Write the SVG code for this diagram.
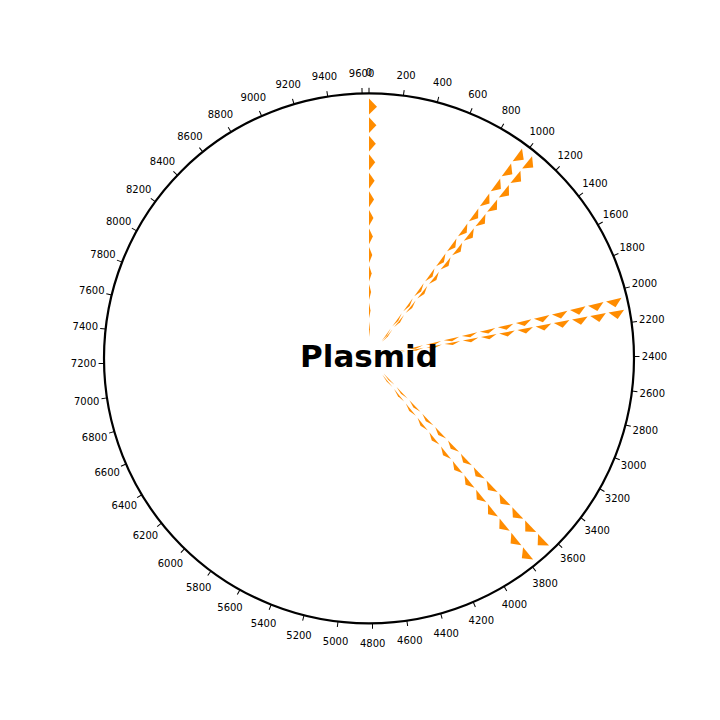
<svg xmlns="http://www.w3.org/2000/svg" xmlns:xlink="http://www.w3.org/1999/xlink" width="720" height="720" viewBox="0 0 720 720">
<style>
.lbl{font-family:"DejaVu Sans",sans-serif;font-size:10px;fill:#000;text-anchor:middle}
.tk{stroke:#000;stroke-width:1}
.feat polygon{fill:#ff8c00;stroke:none}
.title{font-family:"DejaVu Sans",sans-serif;font-size:31px;font-weight:bold;fill:#000;text-anchor:middle}
</style>
<defs>
<line id="tk" class="tk" x1="0" y1="-265" x2="0" y2="-270.5"/>
<g id="fwd" class="feat">
<polygon points="0,-259.7 0,-243.8 8.00,-251.62"/>
<polygon points="0,-241.15 0,-225.25 7.41,-233.08"/>
<polygon points="0,-222.6 0,-206.7 6.82,-214.54"/>
<polygon points="0,-204.05 0,-188.15 6.23,-196.0"/>
<polygon points="0,-185.5 0,-169.6 5.64,-177.46"/>
<polygon points="0,-166.95 0,-151.05 5.05,-158.92"/>
<polygon points="0,-148.4 0,-132.5 4.46,-140.38"/>
<polygon points="0,-129.85 0,-113.95 3.87,-121.84"/>
<polygon points="0,-111.3 0,-95.4 3.28,-103.30"/>
<polygon points="0,-92.75 0,-76.85 2.69,-84.76"/>
<polygon points="0,-74.2 0,-58.3 2.10,-66.22"/>
<polygon points="0,-55.65 0,-39.75 1.51,-47.68"/>
<polygon points="0,-37.1 0,-21.2 0.93,-29.14"/>
</g>
</defs>
<circle cx="369" cy="358.3" r="265" fill="none" stroke="#000" stroke-width="2.2"/>
<g id="ticks" transform="translate(369,358.3)">
<use xlink:href="#tk" transform="rotate(0)"/><use xlink:href="#tk" transform="rotate(7.469)"/><use xlink:href="#tk" transform="rotate(14.938)"/><use xlink:href="#tk" transform="rotate(22.407)"/><use xlink:href="#tk" transform="rotate(29.876)"/><use xlink:href="#tk" transform="rotate(37.344)"/><use xlink:href="#tk" transform="rotate(44.813)"/><use xlink:href="#tk" transform="rotate(52.282)"/><use xlink:href="#tk" transform="rotate(59.751)"/><use xlink:href="#tk" transform="rotate(67.220)"/><use xlink:href="#tk" transform="rotate(74.689)"/><use xlink:href="#tk" transform="rotate(82.158)"/><use xlink:href="#tk" transform="rotate(89.627)"/><use xlink:href="#tk" transform="rotate(97.095)"/><use xlink:href="#tk" transform="rotate(104.564)"/><use xlink:href="#tk" transform="rotate(112.033)"/><use xlink:href="#tk" transform="rotate(119.502)"/><use xlink:href="#tk" transform="rotate(126.971)"/><use xlink:href="#tk" transform="rotate(134.440)"/><use xlink:href="#tk" transform="rotate(141.909)"/><use xlink:href="#tk" transform="rotate(149.378)"/><use xlink:href="#tk" transform="rotate(156.846)"/><use xlink:href="#tk" transform="rotate(164.315)"/><use xlink:href="#tk" transform="rotate(171.784)"/><use xlink:href="#tk" transform="rotate(179.253)"/><use xlink:href="#tk" transform="rotate(186.722)"/><use xlink:href="#tk" transform="rotate(194.191)"/><use xlink:href="#tk" transform="rotate(201.660)"/><use xlink:href="#tk" transform="rotate(209.129)"/><use xlink:href="#tk" transform="rotate(216.598)"/><use xlink:href="#tk" transform="rotate(224.066)"/><use xlink:href="#tk" transform="rotate(231.535)"/><use xlink:href="#tk" transform="rotate(239.004)"/><use xlink:href="#tk" transform="rotate(246.473)"/><use xlink:href="#tk" transform="rotate(253.942)"/><use xlink:href="#tk" transform="rotate(261.411)"/><use xlink:href="#tk" transform="rotate(268.880)"/><use xlink:href="#tk" transform="rotate(276.349)"/><use xlink:href="#tk" transform="rotate(283.817)"/><use xlink:href="#tk" transform="rotate(291.286)"/><use xlink:href="#tk" transform="rotate(298.755)"/><use xlink:href="#tk" transform="rotate(306.224)"/><use xlink:href="#tk" transform="rotate(313.693)"/><use xlink:href="#tk" transform="rotate(321.162)"/><use xlink:href="#tk" transform="rotate(328.631)"/><use xlink:href="#tk" transform="rotate(336.100)"/><use xlink:href="#tk" transform="rotate(343.568)"/><use xlink:href="#tk" transform="rotate(351.037)"/><use xlink:href="#tk" transform="rotate(358.506)"/>
</g>
<g id="labels">
<text class="lbl" x="369" y="76.4">0</text>
<text class="lbl" x="406.1" y="78.8">200</text>
<text class="lbl" x="442.6" y="86.05">400</text>
<text class="lbl" x="477.8" y="97.96">600</text>
<text class="lbl" x="511.2" y="114.35">800</text>
<text class="lbl" x="542.2" y="134.92">1000</text>
<text class="lbl" x="570.2" y="159.36">1200</text>
<text class="lbl" x="594.9" y="187.25">1400</text>
<text class="lbl" x="615.6" y="218.08">1600</text>
<text class="lbl" x="632.2" y="251.36">1800</text>
<text class="lbl" x="644.4" y="286.51">2000</text>
<text class="lbl" x="651.8" y="322.95">2200</text>
<text class="lbl" x="654.5" y="360.04">2400</text>
<text class="lbl" x="652.3" y="397.16">2600</text>
<text class="lbl" x="645.3" y="433.69">2800</text>
<text class="lbl" x="633.6" y="468.98">3000</text>
<text class="lbl" x="617.5" y="502.48">3200</text>
<text class="lbl" x="597.2" y="533.53">3400</text>
<text class="lbl" x="572.8" y="561.83">3600</text>
<text class="lbl" x="545.1" y="586.61">3800</text>
<text class="lbl" x="514.4" y="607.58">4000</text>
<text class="lbl" x="481.3" y="624.4">4200</text>
<text class="lbl" x="446.2" y="636.77">4400</text>
<text class="lbl" x="409.8" y="644.47">4600</text>
<text class="lbl" x="372.7" y="647.38">4800</text>
<text class="lbl" x="335.6" y="645.44">5000</text>
<text class="lbl" x="299.0" y="638.69">5200</text>
<text class="lbl" x="263.6" y="627.24">5400</text>
<text class="lbl" x="230.0" y="611.3">5600</text>
<text class="lbl" x="198.7" y="591.08">5800</text>
<text class="lbl" x="170.4" y="567.02">6000</text>
<text class="lbl" x="145.4" y="539.41">6200</text>
<text class="lbl" x="124.3" y="508.95">6400</text>
<text class="lbl" x="107.2" y="475.87">6600</text>
<text class="lbl" x="94.6" y="440.87">6800</text>
<text class="lbl" x="86.7" y="404.54">7000</text>
<text class="lbl" x="83.6" y="367.48">7200</text>
<text class="lbl" x="85.3" y="330.33">7400</text>
<text class="lbl" x="91.8" y="293.72">7600</text>
<text class="lbl" x="103.0" y="258.26">7800</text>
<text class="lbl" x="118.7" y="224.59">8000</text>
<text class="lbl" x="138.7" y="193.19">8200</text>
<text class="lbl" x="162.5" y="164.73">8400</text>
<text class="lbl" x="189.9" y="139.56">8600</text>
<text class="lbl" x="220.4" y="118.13">8800</text>
<text class="lbl" x="253.3" y="100.88">9000</text>
<text class="lbl" x="288.2" y="88.06">9200</text>
<text class="lbl" x="324.5" y="79.89">9400</text>
<text class="lbl" x="361.6" y="76.5">9600</text>
</g>
<g id="features" transform="translate(369,358.3)">
<use id="featA" xlink:href="#fwd" transform="rotate(0)"/>
<use id="featB1" xlink:href="#fwd" transform="rotate(36.1)"/>
<use id="featB2" xlink:href="#fwd" transform="rotate(38.9)"/>
<use id="featC1" xlink:href="#fwd" transform="rotate(76.5)"/>
<use id="featC2" xlink:href="#fwd" transform="rotate(79.2)"/>
<use id="featD1" xlink:href="#fwd" transform="rotate(136.1)"/>
<use id="featD2" xlink:href="#fwd" transform="rotate(140.8)"/>
</g>
<g id="title">
<text class="title" x="369" y="366.5">Plasmid</text>
</g>
</svg>
